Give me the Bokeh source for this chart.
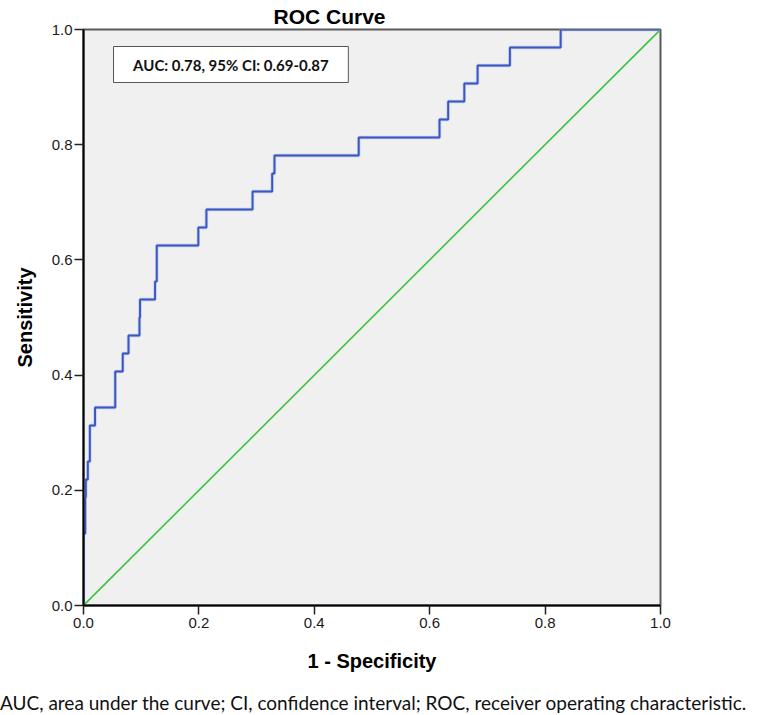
from bokeh.plotting import figure
from bokeh.layouts import column
from bokeh.models import Range1d, FixedTicker, PrintfTickFormatter, Label, BoxAnnotation, Title, Div
from bokeh.embed import file_html
from bokeh.resources import INLINE

# ROC operating points (1 - specificity, sensitivity)
fpr = [0.0, 0.0, 0.003, 0.004, 0.0075, 0.011, 0.020, 0.055, 0.068, 0.078, 0.097,
       0.098, 0.124, 0.127, 0.199, 0.213, 0.293, 0.327, 0.331, 0.477, 0.617,
       0.632, 0.660, 0.683, 0.739, 0.827, 1.0]
tpr = [0.0, 0.125, 0.1875, 0.21875, 0.25, 0.3125, 0.34375, 0.40625, 0.4375,
       0.46875, 0.5, 0.53125, 0.5625, 0.625, 0.65625, 0.6875, 0.71875, 0.75,
       0.78125, 0.8125, 0.84375, 0.875, 0.90625, 0.9375, 0.96875, 1.0, 1.0]
ref_x = [0.0, 1.0]
ref_y = [0.0, 1.0]
ticks = [0.0, 0.2, 0.4, 0.6, 0.8, 1.0]
title_text = "ROC Curve"
x_label_text = "1 - Specificity"
y_label_text = "Sensitivity"
auc_text = "AUC: 0.78, 95% CI: 0.69-0.87"
caption_text = "AUC, area under the curve; CI, confidence interval; ROC, receiver operating characteristic."

W, H = 758, 692
FL, FT, FS = 83, 28, 577

p = figure(width=W, height=H, output_backend="svg", toolbar_location=None,
           x_range=Range1d(0, 1), y_range=Range1d(0, 1),
           min_border_left=FL, min_border_top=FT,
           min_border_right=W - FL - FS, min_border_bottom=H - FT - FS)
p.background_fill_color = "#f0f0f0"
p.border_fill_color = "white"
p.outline_line_color = "#5a5a5a"
p.outline_line_width = 2
p.xgrid.visible = False
p.ygrid.visible = False

for ax in (p.xaxis, p.yaxis):
    ax.ticker = FixedTicker(ticks=ticks)
    ax.formatter = PrintfTickFormatter(format="%.1f")
    ax.minor_tick_line_color = None
    ax.major_tick_out = 9
    ax.major_tick_in = 0
    ax.major_tick_line_color = "#222222"
    ax.major_tick_line_width = 1.5
    ax.axis_line_color = "black"
    ax.axis_line_width = 2
    ax.major_label_text_font = "Liberation Sans"
    ax.major_label_text_font_size = "15px"
    ax.major_label_text_color = "#1a1a1a"
    ax.axis_label_text_font = "Liberation Sans"
    ax.axis_label_text_font_style = "bold"
    ax.axis_label_text_font_size = "20px"
    ax.axis_label_text_color = "black"

p.xaxis.axis_label = x_label_text
p.yaxis.axis_label = y_label_text
p.xaxis.major_label_standoff = 3
p.yaxis.major_label_standoff = 2
p.xaxis.axis_label_standoff = 19
p.yaxis.axis_label_standoff = 13

# reference diagonal
p.line(ref_x, ref_y, line_color="#3cc43c", line_width=1.6)
# ROC step curve
p.step(fpr, tpr, mode="after", line_color="#9fb0e6", line_width=3.4, line_alpha=0.6)
p.step(fpr, tpr, mode="after", line_color="#3a56c2", line_width=1.9)

# AUC box
p.add_layout(BoxAnnotation(left=0.052, right=0.459, bottom=0.908, top=0.9705,
                           fill_color="white", fill_alpha=1.0,
                           line_color="#555555", line_width=1, line_alpha=1.0))
p.add_layout(Label(x=0.2555, y=0.939, text=auc_text, text_align="center",
                   text_baseline="middle", text_font="Lato", text_font_style="bold",
                   text_font_size="15px", text_color="#111111"))

# title above the frame
p.add_layout(Title(text=title_text, align="left", offset=190, standoff=4,
                   text_font="Liberation Sans", text_font_style="bold",
                   text_font_size="21px", text_color="black"), "above")

# caption under the chart
caption = Div(text=caption_text, width=W, height=22, margin=(0, 0, 0, 0),
              styles={"font-family": "Lato", "font-size": "19px",
                      "line-height": "22px", "color": "#111111",
                      "white-space": "nowrap"})

layout = column(p, caption, spacing=0)
open("out.html", "w").write(file_html(layout, INLINE))
